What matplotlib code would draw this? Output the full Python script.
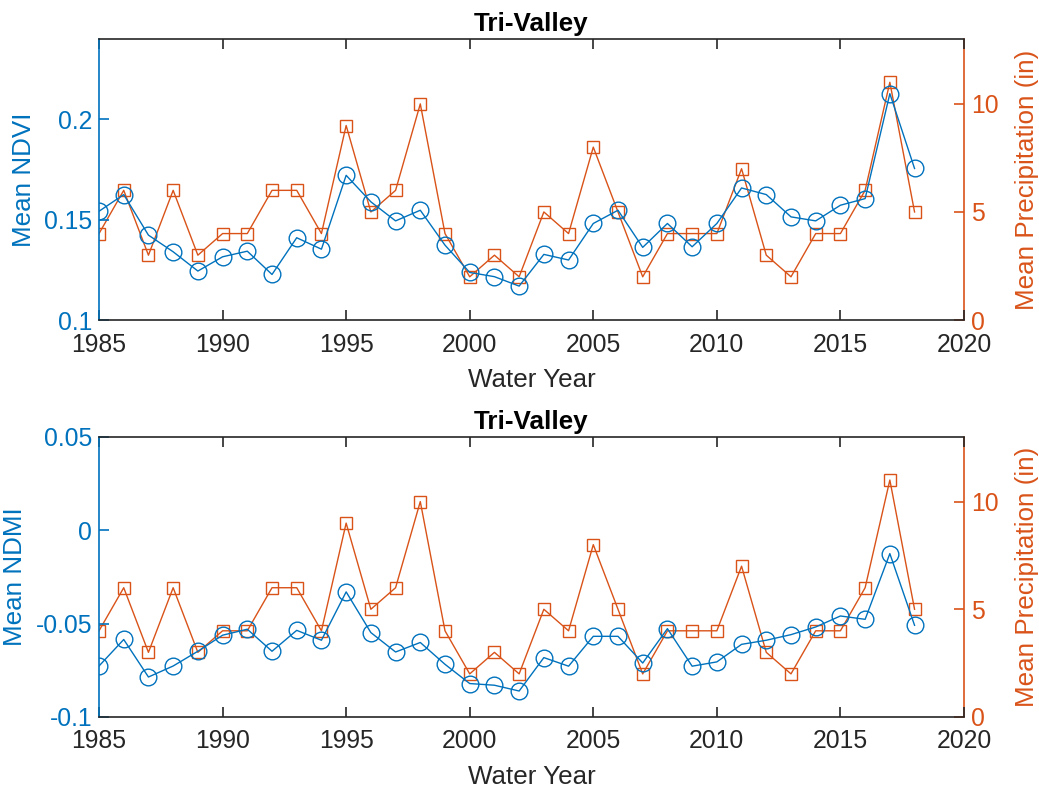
import numpy as np
import matplotlib.pyplot as plt

plt.rcParams['font.family'] = ['Liberation Sans', 'DejaVu Sans']

years = list(range(1985, 2019))
precip = [4, 6, 3, 6, 3, 4, 4, 6, 6, 4, 9, 5, 6, 10, 4, 2, 3, 2, 5, 4,
          8, 5, 2, 4, 4, 4, 7, 3, 2, 4, 4, 6, 11, 5]
ndvi = [0.1542, 0.1625, 0.1423, 0.1340, 0.1244, 0.1315, 0.1343, 0.1227, 0.1410, 0.1353,
        0.1721, 0.1589, 0.1494, 0.1547, 0.1373, 0.1237, 0.1216, 0.1169, 0.1327, 0.1299,
        0.1481, 0.1547, 0.1362, 0.1481, 0.1365, 0.1481, 0.1658, 0.1625, 0.1514, 0.1494,
        0.1572, 0.1605, 0.2128, 0.1755]
ndmi = [-0.0727, -0.0585, -0.0786, -0.0727, -0.0648, -0.0562, -0.0530, -0.0648, -0.0536, -0.0589,
        -0.0330, -0.0548, -0.0652, -0.0601, -0.0718, -0.0821, -0.0830, -0.0861, -0.0682, -0.0728,
        -0.0568, -0.0568, -0.0711, -0.0527, -0.0728, -0.0705, -0.0611, -0.0589, -0.0559, -0.0518,
        -0.0459, -0.0477, -0.0125, -0.0509]

blue = '#0072BD'
orange = '#D95319'
dark = '#262626'

fig = plt.figure(figsize=(10.39, 7.89), dpi=100)


def panel(rect, vals, ylim, yticks, yticklabels, ylabel):
    ax = fig.add_axes(rect)
    ax2 = ax.twinx()
    ax.plot(years, vals, '-o', color=blue, mfc='none', ms=12, mew=1.0, lw=1.0, zorder=3)
    ax2.plot(years, precip, '-s', color=orange, mfc='none', ms=9, mew=1.0, lw=1.0)
    ax.set_zorder(ax2.get_zorder() + 1)
    ax.patch.set_visible(False)

    ax.set_xlim(1985, 2020)
    ax.set_xticks(range(1985, 2021, 5))
    ax.set_ylim(*ylim)
    ax.set_yticks(yticks)
    ax.set_yticklabels(yticklabels)
    ax2.set_ylim(0, 13)
    ax2.set_yticks([0, 5, 10])

    for sp in ['top', 'bottom']:
        ax.spines[sp].set_color(dark)
        ax.spines[sp].set_linewidth(1.2)
        ax2.spines[sp].set_visible(False)
    ax.spines['left'].set_color(blue)
    ax.spines['left'].set_linewidth(1.2)
    ax.spines['right'].set_visible(False)
    ax2.spines['left'].set_visible(False)
    ax2.spines['right'].set_color(orange)
    ax2.spines['right'].set_linewidth(1.2)

    ax.tick_params(axis='x', direction='in', length=7, width=1.2, top=True,
                   colors=dark, labelsize=17.8, pad=9)
    ax.tick_params(axis='y', direction='in', length=7, width=1.2, colors=blue,
                   labelsize=17.8, pad=5)
    ax2.tick_params(axis='y', direction='in', length=7, width=1.2, colors=orange,
                    labelsize=17.8, pad=5)

    ax.set_xlabel('Water Year', fontsize=18.7, color=dark, labelpad=8)
    ax.set_ylabel(ylabel, fontsize=18.7, color=blue, labelpad=6)
    ax2.set_ylabel('Mean Precipitation (in)', fontsize=18.7, color=orange, labelpad=12)
    ax.set_title('Tri-Valley', fontsize=18.7, fontweight='bold', color='black', pad=6)
    return ax


panel([0.0953, 0.5944, 0.8325, 0.3561], ndvi, (0.1, 0.24),
      [0.1, 0.15, 0.2], ['0.1', '0.15', '0.2'], 'Mean NDVI')
panel([0.0953, 0.0913, 0.8325, 0.3549], ndmi, (-0.1, 0.05),
      [-0.1, -0.05, 0, 0.05], ['-0.1', '-0.05', '0', '0.05'], 'Mean NDMI')

fig.savefig('out.png', dpi=100)
